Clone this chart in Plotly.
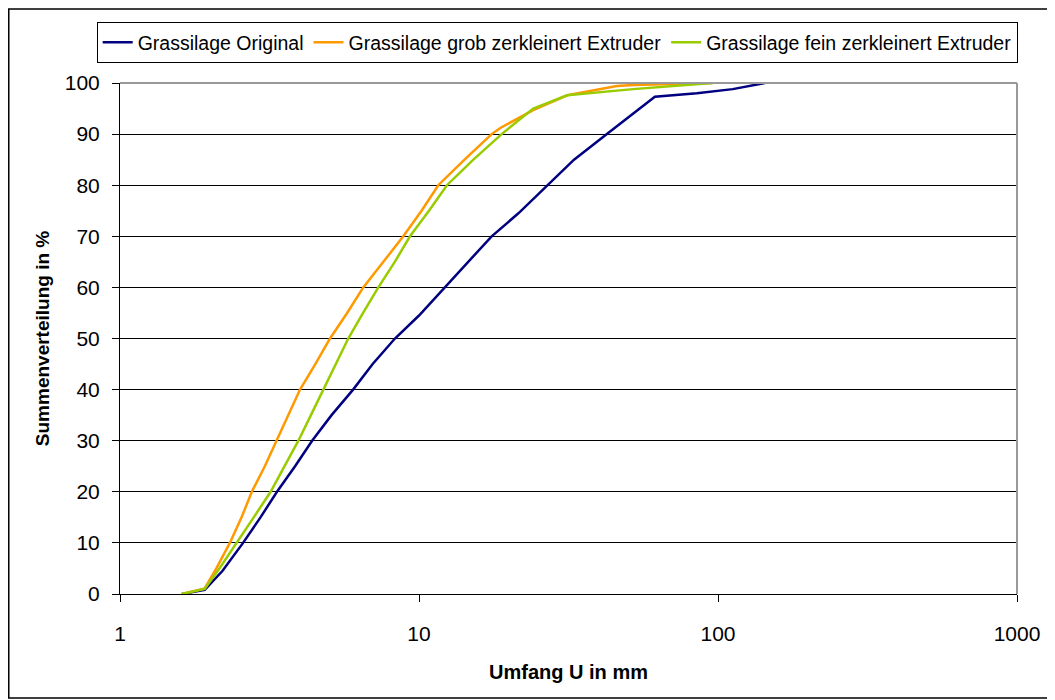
import plotly.graph_objects as go

# Summenverteilung (cumulative distribution) over Umfang U in mm
orig_x = [1.61, 1.92, 2.2, 2.58, 2.95, 3.35, 3.85, 4.39, 5.1, 6.02, 7.0, 8.31, 10.0, 12.2,
          14.6, 17.5, 21.5, 27, 33, 42.5, 52, 61.5, 85, 112, 143.6]
orig_y = [0, 0.8, 4.5, 10, 15, 20, 25, 30, 35, 40, 45, 50, 54.5, 60,
          65, 70, 74.5, 80, 85, 90, 94, 97.3, 98, 98.8, 100]

grob_x = [1.61, 1.92, 2.1, 2.33, 2.55, 2.76, 3.05, 3.34, 3.65, 4.0, 4.5, 5.04, 5.75, 6.51,
          7.6, 8.86, 10.2, 11.6, 14.2, 17.5, 18.7, 24.1, 31.3, 45.9, 52, 96]
grob_y = [0, 1.1, 5, 10, 15, 20, 25, 30, 35, 40, 45, 50, 55, 60,
          65, 70, 75, 80, 85, 90, 91.2, 94.7, 97.6, 99.4, 99.6, 100]

fein_x = [1.61, 1.92, 2.15, 2.46, 2.8, 3.19, 3.55, 3.95, 4.35, 4.79, 5.3, 5.8, 6.5, 7.31,
          8.3, 9.33, 10.8, 12.4, 15.2, 18.9, 24.1, 31.3, 52, 96]
fein_y = [0, 1, 5, 10, 15, 20, 25, 30, 35, 40, 45, 50, 55, 60,
          65, 70, 75, 80, 85, 90, 95.0, 97.6, 98.8, 100]

names = ['Grassilage Original', 'Grassilage grob zerkleinert Extruder',
         'Grassilage fein zerkleinert Extruder']
colors = ['#000080', '#FF9900', '#99CC00']

x_ticks = [1, 10, 100, 1000]
y_ticks = list(range(0, 101, 10))

fig = go.Figure()
for xs, ys, name, col in zip([orig_x, grob_x, fein_x], [orig_y, grob_y, fein_y], names, colors):
    fig.add_trace(go.Scatter(x=xs, y=ys, name=name, mode='lines',
                             line=dict(color=col, width=2.5)))

# page body adds an 8px margin, so the figure is a bit smaller than the window
fig.update_layout(
    width=1047, height=692,
    margin=dict(l=112, r=38, t=75, b=106),
    paper_bgcolor='white', plot_bgcolor='white',
    font=dict(family='Liberation Sans, Arial', color='black'),
    legend=dict(orientation='h', x=-0.026, y=1.119, xanchor='left', yanchor='top',
                bordercolor='black', borderwidth=1, font=dict(size=19.5),
                itemwidth=30, tracegroupgap=0),
    xaxis=dict(type='log', range=[0, 3], tickvals=x_ticks, ticktext=[str(v) for v in x_ticks],
               showgrid=False, showline=True, linecolor='black', linewidth=1,
               ticks='outside', ticklen=7, tickcolor='black', ticklabelstandoff=14,
               tickfont=dict(size=21),
               title=dict(text='<b>Umfang U in mm</b>', font=dict(size=20), standoff=20)),
    yaxis=dict(range=[0, 100], tickvals=y_ticks, showgrid=True, gridcolor='black', gridwidth=1,
               showline=True, linecolor='black', linewidth=1, zeroline=False,
               ticks='outside', ticklen=7, tickcolor='black', ticklabelstandoff=8,
               tickfont=dict(size=21),
               title=dict(text='<b>Summenverteilung in %</b>', font=dict(size=19), standoff=10)),
)

# gray top/right plot-area border
fig.add_shape(type='line', xref='paper', yref='paper', x0=0, x1=1, y0=1, y1=1,
              line=dict(color='#999999', width=2), layer='above')
fig.add_shape(type='line', xref='paper', yref='paper', x0=1, x1=1, y0=0, y1=1,
              line=dict(color='#999999', width=2), layer='above')
# outer frame around the whole chart
fig.add_shape(type='rect', xref='paper', yref='paper', x0=-0.1240, x1=1.040, y0=-0.2035, y1=1.145,
              line=dict(color='black', width=1.5))

fig.write_html('out.html')
